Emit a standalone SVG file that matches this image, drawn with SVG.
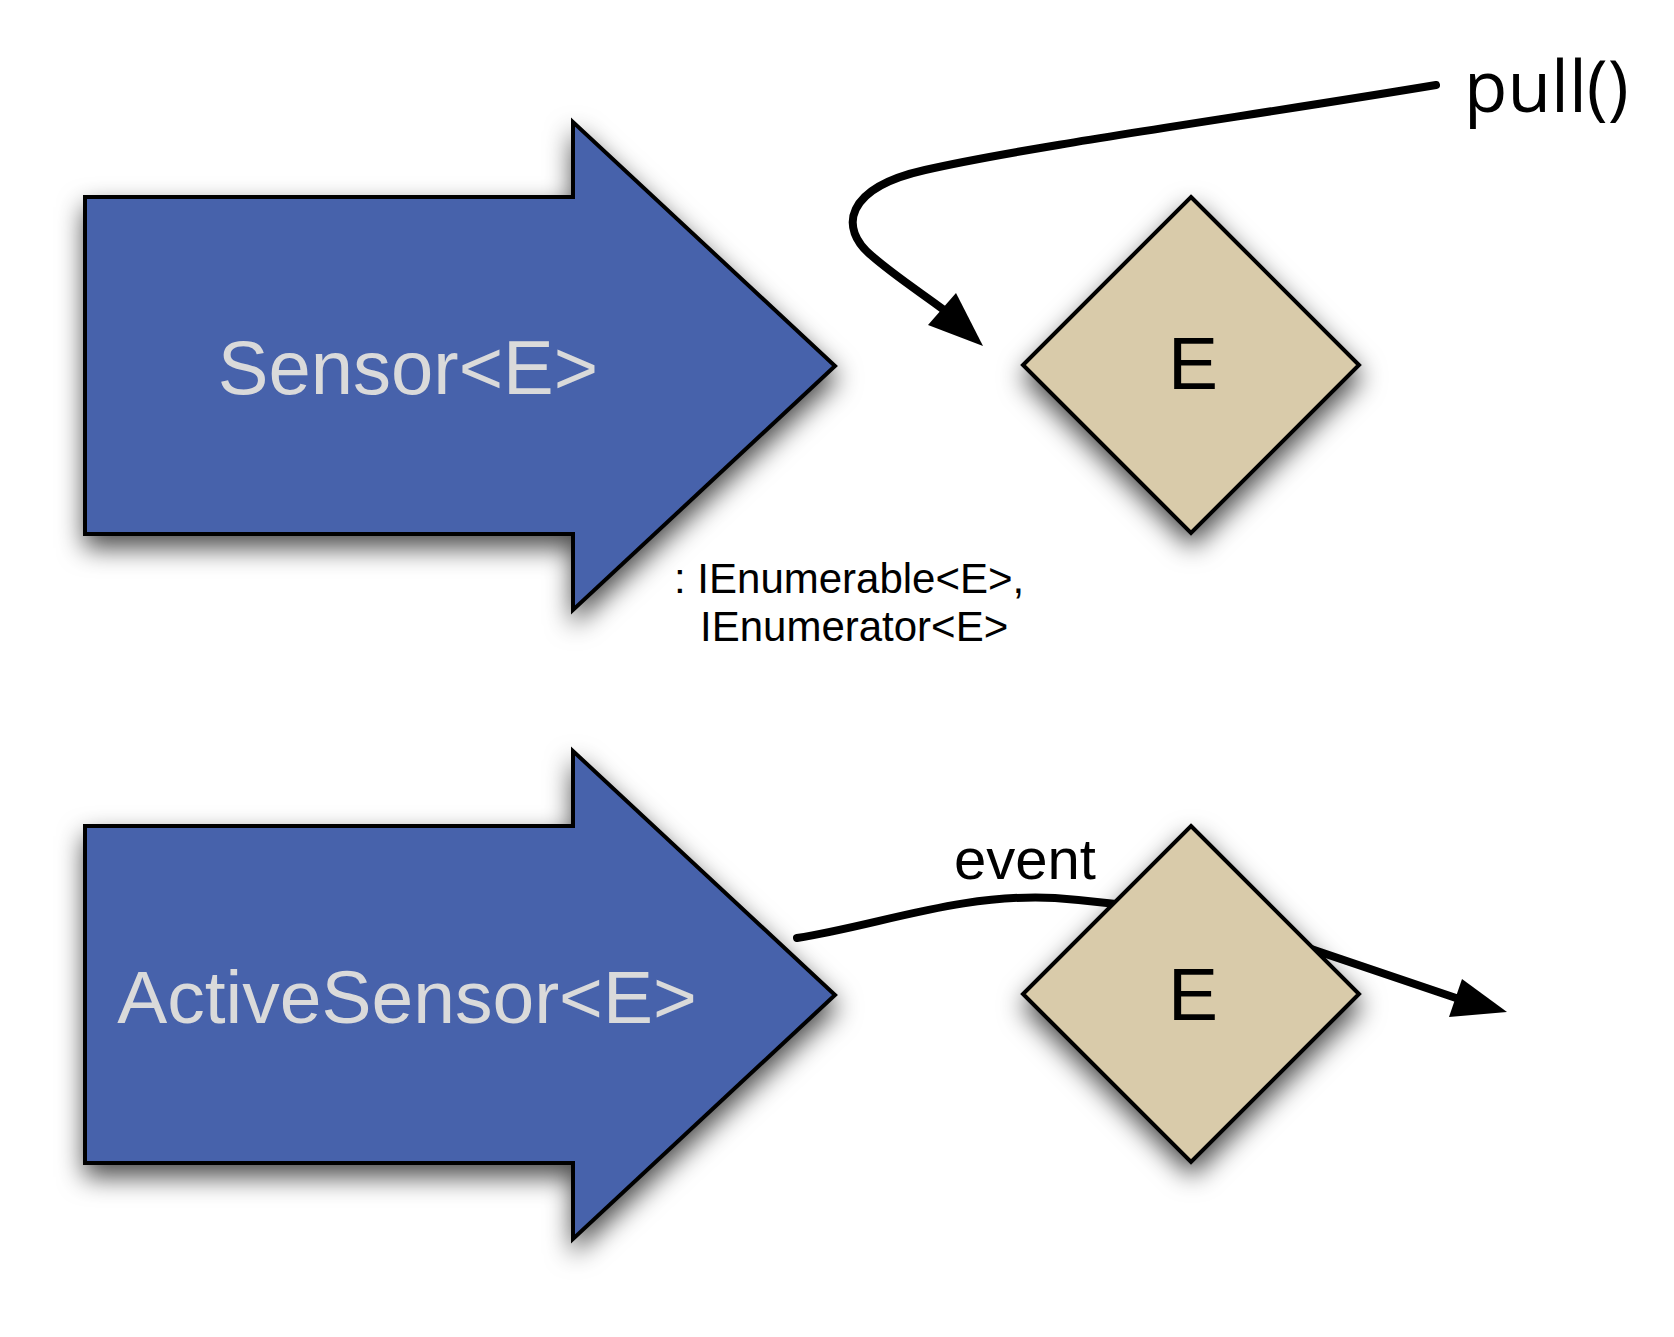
<svg xmlns="http://www.w3.org/2000/svg" width="1674" height="1337" viewBox="0 0 1674 1337">
  <defs>
    <filter id="shadow" x="-30%" y="-30%" width="160%" height="170%">
      <feDropShadow dx="1" dy="12" stdDeviation="13" flood-color="#000" flood-opacity="0.7"/>
    </filter>
    <style>
      .bigarrow { fill: #4762ab; stroke: #000; stroke-width: 4; stroke-linejoin: miter; filter: url(#shadow); }
      .diamond { fill: #d9cbaa; stroke: #000; stroke-width: 4; stroke-linejoin: miter; filter: url(#shadow); }
      .alabel { font-family: "Liberation Sans", Arial, sans-serif; fill: #dadada; text-anchor: middle; }
      .elabel { font-family: "Liberation Sans", Arial, sans-serif; font-size: 75px; fill: #000; text-anchor: middle; }
      .note { font-family: "Liberation Sans", Arial, sans-serif; fill: #000; }
      .conn { fill: none; stroke: #000; stroke-width: 8; stroke-linecap: round; }
      .head { fill: #000; stroke: none; }
    </style>
  </defs>
  <rect width="1674" height="1337" fill="#fff"/>

  <g id="connectors">
    <path class="conn" d="M1436,85 C1250,116 1030,146 925,170 C845,188 838,228 872,256 C895,276 920,292 944,310"/>
    <polygon class="head" points="983,346 956,293 928,325"/>
    <path class="conn" d="M797,938 C880,925 960,893 1055,898 C1150,905 1240,923 1320,952 L1456,998"/>
    <polygon class="head" points="1507,1012 1462,979 1449,1017"/>
  </g>

  <g id="sensor">
    <polygon class="bigarrow" points="85,197 573,197 573,122 835,366 573,610 573,534 85,534"/>
    <text class="alabel" x="408" y="394" font-size="76">Sensor&lt;E&gt;</text>
  </g>

  <g id="active-sensor">
    <polygon class="bigarrow" points="85,826 573,826 573,751 835,995 573,1239 573,1163 85,1163"/>
    <text class="alabel" x="407" y="1023" font-size="75">ActiveSensor&lt;E&gt;</text>
  </g>

  <g id="element-pull">
    <polygon class="diamond" points="1191,197 1359,365 1191,533 1023,365"/>
    <text class="elabel" x="1193" y="389">E</text>
  </g>

  <g id="element-event">
    <polygon class="diamond" points="1191,826 1359,994 1191,1162 1023,994"/>
    <text class="elabel" x="1193" y="1020">E</text>
  </g>

  <g id="labels">
    <text x="1464" y="112" font-family="'Open Sans', 'Noto Sans', sans-serif" font-size="71" fill="#000">pull()</text>
    <text x="954" y="879" class="note" font-size="58">event</text>
    <text class="note" font-size="42">
      <tspan x="674" y="593">: IEnumerable&lt;E&gt;,</tspan>
      <tspan x="700" y="641">IEnumerator&lt;E&gt;</tspan>
    </text>
  </g>
</svg>
